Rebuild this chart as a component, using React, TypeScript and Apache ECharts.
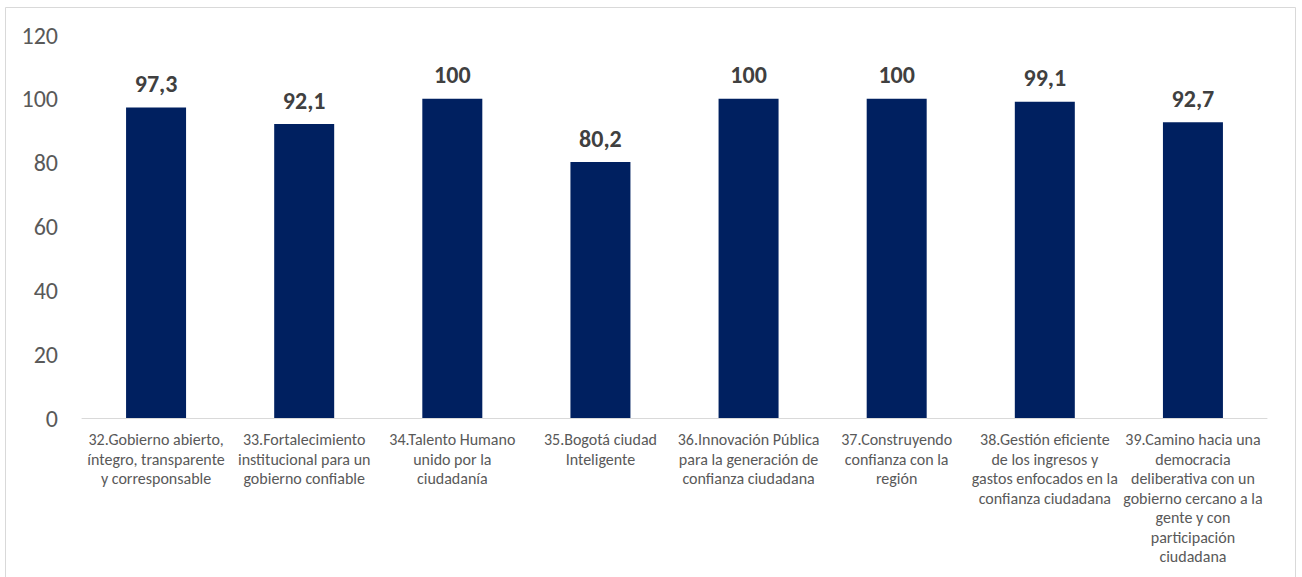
import React, { useEffect, useRef } from "react";
import * as echarts from "echarts";

const categories = [
  "32.Gobierno abierto,\níntegro, transparente\ny corresponsable",
  "33.Fortalecimiento\ninstitucional para un\ngobierno confiable",
  "34.Talento Humano\nunido por la\nciudadanía",
  "35.Bogotá ciudad\nInteligente",
  "36.Innovación Pública\npara la generación de\nconfianza ciudadana",
  "37.Construyendo\nconfianza con la\nregión",
  "38.Gestión eficiente\nde los ingresos y\ngastos enfocados en la\nconfianza ciudadana",
  "39.Camino hacia una\ndemocracia\ndeliberativa con un\ngobierno cercano a la\ngente y con\nparticipación\nciudadana",
];
const values = [97.3, 92.1, 100, 80.2, 100, 100, 99.1, 92.7];

const FONT = "Carlito, Calibri, Lato, sans-serif";

export default function App() {
  const ref = useRef<HTMLDivElement>(null);
  useEffect(() => {
    const chart = echarts.init(ref.current!, null, { renderer: "svg" });
    chart.setOption({
      animation: false,
      backgroundColor: "#ffffff",
      grid: { left: 82, right: 35, top: 35, bottom: 159, containLabel: false },
      graphic: [
        {
          type: "rect",
          shape: { x: 5.5, y: 7.5, width: 1290, height: 600 },
          style: { fill: "none", stroke: "#d9d9d9", lineWidth: 1 },
          silent: true,
        },
      ],
      xAxis: {
        type: "category",
        data: categories,
        axisLine: { show: true, lineStyle: { color: "#d9d9d9", width: 1 } },
        axisTick: { show: false },
        axisLabel: {
          interval: 0,
          color: "#595959",
          fontFamily: FONT,
          fontSize: 16,
          lineHeight: 19.5,
          margin: 12,
          align: "center",
        },
      },
      yAxis: {
        type: "value",
        min: 0,
        max: 120,
        interval: 20,
        splitLine: { show: false },
        axisLine: { show: false },
        axisTick: { show: false },
        axisLabel: {
          color: "#595959",
          fontFamily: FONT,
          fontSize: 24,
          margin: 24,
        },
      },
      series: [
        {
          type: "bar",
          data: values,
          barWidth: 60,
          itemStyle: { color: "#002060" },
          label: {
            show: true,
            position: "top",
            distance: 12,
            color: "#404040",
            fontFamily: FONT,
            fontSize: 24,
            fontWeight: "bold",
            formatter: (p: any) => String(p.value).replace(".", ","),
          },
        },
      ],
    });
    return () => chart.dispose();
  }, []);
  return (
    <div
      ref={ref}
      style={{ position: "fixed", left: 0, top: 0, width: 1302, height: 577, background: "#fff" }}
    />
  );
}
